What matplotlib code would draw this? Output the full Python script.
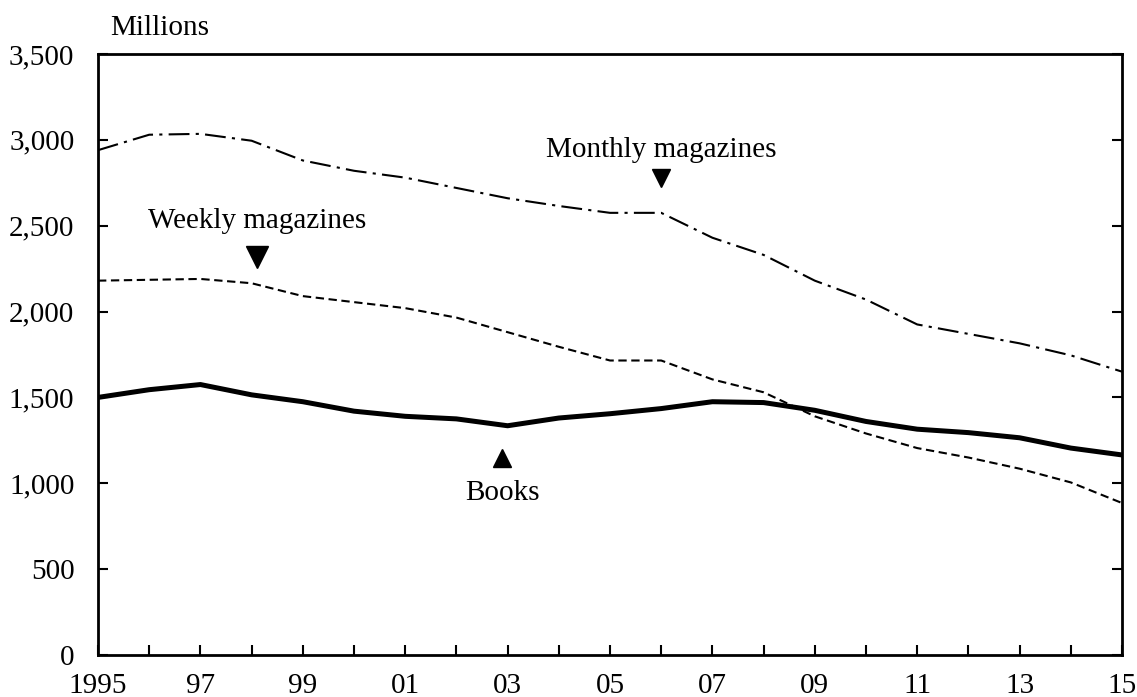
import matplotlib
matplotlib.use("Agg")
import matplotlib.pyplot as plt

years = list(range(1995, 2016))
books = [1500, 1545, 1575, 1515, 1475, 1420, 1390, 1375, 1335, 1380, 1405,
         1435, 1475, 1470, 1425, 1360, 1315, 1295, 1265, 1205, 1165]
weekly = [2180, 2185, 2190, 2165, 2090, 2055, 2020, 1965, 1880, 1795, 1715,
          1715, 1605, 1530, 1390, 1290, 1205, 1150, 1085, 1005, 885]
monthly = [2940, 3030, 3035, 2995, 2880, 2820, 2780, 2720, 2660, 2615, 2575,
           2575, 2430, 2330, 2180, 2070, 1925, 1870, 1815, 1745, 1650]
xtick_labels = ["1995", "", "97", "", "99", "", "01", "", "03", "", "05", "",
                "07", "", "09", "", "11", "", "13", "", "15"]
yticks = [0, 500, 1000, 1500, 2000, 2500, 3000, 3500]
ytick_labels = ["0", "500", "1,000", "1,500", "2,000", "2,500", "3,000", "3,500"]

plt.rcParams['font.family'] = ['Liberation Serif', 'DejaVu Serif']

fig = plt.figure(figsize=(11.37, 6.97), dpi=100)
ax = fig.add_axes([0.0862, 0.0603, 0.9006, 0.8622])

ax.plot(years, monthly, color='black', lw=1.5, linestyle=(0, (10, 3, 1.5, 3)))
ax.plot(years, weekly, color='black', lw=1.5, linestyle=(0, (4, 2.2)))
ax.plot(years, books, color='black', lw=3.6, solid_joinstyle='round')

ax.set_xlim(1995, 2015)
ax.set_ylim(0, 3500)
ax.set_xticks(years)
ax.set_xticklabels(xtick_labels)
ax.set_yticks(yticks)
ax.set_yticklabels(ytick_labels)

ax.tick_params(axis='x', direction='in', length=7, width=1.5, labelsize=21, pad=13)
ax.tick_params(axis='y', direction='in', length=7, width=1.5, labelsize=21, pad=17,
               right=True)
for s in ax.spines.values():
    s.set_linewidth(2)

ax.text(0.012, 1.022, "Millions", transform=ax.transAxes, fontsize=21,
        ha='left', va='bottom')

# annotations
ax.text(2006.0, 2940, "Monthly magazines", fontsize=21, ha='center', va='center')
ax.plot([2006.0], [2778], marker='v', color='black', markersize=12.5, linestyle='none')
ax.text(1998.1, 2528, "Weekly magazines", fontsize=21, ha='center', va='center')
ax.plot([1998.1], [2318], marker='v', color='black', markersize=16, linestyle='none')
ax.text(2002.9, 943, "Books", fontsize=21, ha='center', va='center')
ax.plot([2002.9], [1147], marker='^', color='black', markersize=12.5, linestyle='none')

fig.savefig("out.png", dpi=100)
